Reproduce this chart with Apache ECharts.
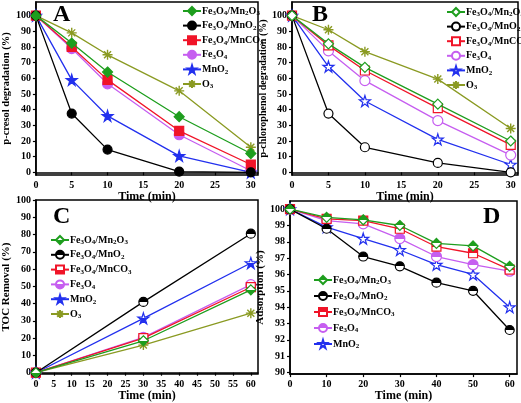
<!DOCTYPE html>
<html><head><meta charset="utf-8">
<script src="https://cdn.jsdelivr.net/npm/echarts@6/dist/echarts.min.js"></script>
<style>html,body{margin:0;padding:0;background:#fff}#c{width:521px;height:403px}</style>
</head><body><div id="c"></div>
<script>
// ---- data ----
var seriesNames = ['Fe3O4/Mn2O3','Fe3O4/MnO2','Fe3O4/MnCO3','Fe3O4','MnO2','O3'];
var timeAB = [0,5,10,20,30];
var timeC = [0,30,60];
var timeD = [0,10,20,30,40,50,60];
// Panel A: p-cresol degradation (%)
var aMn2O3 = [100,82.5,64,35.5,12];
var aMnO2c = [100,37.5,14.5,0.5,0];
var aMnCO3 = [100,80,59,26.5,5];
var aFe3O4 = [100,79,56.5,24,1];
var aMnO2 = [100,59,36,10.5,0];
var aO3 = [100,89,75,52,16];
// Panel B: p-chlorophenol degradation (%)
var bMn2O3 = [100,82,67,43.5,20];
var bMnO2c = [100,37.5,16,6,0];
var bMnCO3 = [100,81,65,41,17.5];
var bFe3O4 = [100,77.5,58.5,33,11];
var bMnO2 = [100,67.5,45.5,21,5];
var bO3 = [100,91,77,59.5,28];
// Panel C: TOC removal (%)
var cMn2O3 = [0,18.5,48];
var cMnO2c = [0,41,80.5];
var cMnCO3 = [0,20,49.5];
var cFe3O4 = [0,20.5,51];
var cMnO2 = [0,31.5,63.5];
var cO3 = [0,16,34.5];
// Panel D: Adsorption (%)
var dMn2O3 = [100,99.5,99.35,99.0,97.9,97.75,96.5];
var dMnO2c = [100,98.8,97.1,96.5,95.5,95.0,92.6];
var dMnCO3 = [100,99.4,99.3,98.8,97.7,97.3,96.3];
var dFe3O4 = [100,99.3,99.1,98.2,97.1,96.6,96.2];
var dMnO2 = [100,98.9,98.2,97.5,96.6,96.0,94.0];
var ticksY100 = [0,10,20,30,40,50,60,70,80,90,100];
var ticksD = [90,91,92,93,94,95,96,97,98,99,100];

// ---- styles ----
var colors = ['#1e9e1e','#000000','#f01428','#c65ef0','#2230ee','#8a9a22'];
var symbols = ['diamond','circle','rect','circle','path://M50,0 L61,35 L98,35 L68,57 L79,91 L50,70 L21,91 L32,57 L2,35 L39,35 Z','path://M50,0 L50,100 M0,50 L100,50 M15,15 L85,85 M85,15 L15,85'];
var sizes = [10,9,9,10,11,10];
var F = 'Liberation Serif';

function half(c, top){
  var s = top ? [{offset:0,color:c},{offset:0.5,color:c},{offset:0.5,color:'#fff'},{offset:1,color:'#fff'}]
              : [{offset:0,color:'#fff'},{offset:0.5,color:'#fff'},{offset:0.5,color:c},{offset:1,color:c}];
  return {type:'linear',x:0,y:0,x2:0,y2:1,colorStops:s};
}
function fillFor(panel, i){
  var c = colors[i];
  if (i === 5) return c;
  if (panel === 0) return c;
  if (panel === 1) return '#fff';
  if (panel === 2) return half(c, i === 1);
  return (i === 4) ? '#fff' : half(c, true);
}
function legendFmt(name){
  return name.replace(/([A-Za-z]+)|(\d+)|(\/)/g, function(m,a,d,s){
    if (d) return '{s|'+d+'}';
    return '{n|'+m+'}';
  });
}
var rich = {n:{fontFamily:F,fontWeight:'bold',fontSize:10,lineHeight:13,color:'#000'},
            s:{fontFamily:F,fontWeight:'bold',fontSize:7,lineHeight:13,color:'#000',padding:[5,0,0,0]}};

var grids = [
  {left:31,top:2,width:227,height:173},
  {left:292,top:2,width:226,height:173},
  {left:31,top:200,width:227,height:176},
  {left:290,top:201,width:227,height:175}
];
var xCfg = [{min:0,max:31,interval:5},{min:0,max:31,interval:5},{min:0,max:62,interval:5},{min:0,max:62,interval:10}];
var yCfg = [{min:-1.7,max:108.7,ticks:ticksY100,name:'p-cresol degradation (%)',fs:10.5,gap:19},
            {min:-1.7,max:108.7,ticks:ticksY100,name:'p-chlorophenol degradation (%)',fs:10,gap:17},
            {min:-0.8,max:100,ticks:ticksY100,name:'TOC Removal (%)',fs:11,gap:19},
            {min:89.9,max:100.5,ticks:ticksD,name:'Adsorption (%)',fs:11,gap:17}];
var panelData = [
  [aMn2O3,aMnO2c,aMnCO3,aFe3O4,aMnO2,aO3],
  [bMn2O3,bMnO2c,bMnCO3,bFe3O4,bMnO2,bO3],
  [cMn2O3,cMnO2c,cMnCO3,cFe3O4,cMnO2,cO3],
  [dMn2O3,dMnO2c,dMnCO3,dFe3O4,dMnO2]
];
var panelX = [timeAB,timeAB,timeC,timeD];
var legendPos = [{left:182,top:5,gap:2.6},{left:446,top:6,gap:2.6},{left:50,top:234,gap:2.8},{left:313,top:274,gap:4}];
var letters = [{t:'A',x:63,y:16},{t:'B',x:322,y:16},{t:'C',x:63,y:218},{t:'D',x:493,y:218}];

var axisText = {fontFamily:F,fontWeight:'bold',fontSize:10,color:'#000'};
var option = {animation:false,backgroundColor:'#fff',grid:[],xAxis:[],yAxis:[],series:[],legend:[],graphic:[]};
grids.forEach(function(g,p){
  option.grid.push(Object.assign({show:true,borderColor:'#000',borderWidth:1.5,backgroundColor:'transparent'},g));
  var xc = xCfg[p];
  var xTicks=[]; for (var v=xc.min; v<=60; v+=xc.interval) if (v<=xc.max) xTicks.push(v);
  option.xAxis.push({type:'value',gridIndex:p,min:xc.min,max:xc.max,
    name:'Time (min)',nameLocation:'middle',nameGap:12,
    nameTextStyle:{fontFamily:F,fontWeight:'bold',fontSize:12,color:'#000'},
    axisLine:{lineStyle:{color:'#000',width:1.5}},
    axisTick:{inside:false,length:3,customValues:xTicks,lineStyle:{color:'#000',width:1.2}},
    axisLabel:Object.assign({margin:5,customValues:xTicks},axisText),
    splitLine:{show:false}});
  var yc = yCfg[p];
  option.yAxis.push({type:'value',gridIndex:p,min:yc.min,max:yc.max,
    name:yc.name,nameLocation:'middle',nameGap:yc.gap,
    nameTextStyle:{fontFamily:F,fontWeight:'bold',fontSize:yc.fs,color:'#000'},
    axisLine:{lineStyle:{color:'#000',width:1.5}},
    axisTick:{length:3,customValues:yc.ticks,lineStyle:{color:'#000',width:1.2}},
    axisLabel:Object.assign({margin:5,customValues:yc.ticks},axisText),
    splitLine:{show:false}});
  var names=[];
  panelData[p].forEach(function(arr,i){
    names.push(seriesNames[i]+'#'+p);
    option.series.push({type:'line',name:seriesNames[i]+'#'+p,xAxisIndex:p,yAxisIndex:p,
      data:panelX[p].map(function(x,k){return [x,arr[k]];}),
      symbol:symbols[i],symbolSize:sizes[i],showSymbol:true,clip:true,
      lineStyle:{color:colors[i],width:1.3},
      itemStyle:{color:fillFor(p,i),borderColor:colors[i],borderWidth:i===5?1.4:1.2},
      z:10-i});
  });
  option.legend.push({data:names,orient:'vertical',left:legendPos[p].left,top:legendPos[p].top,
    itemWidth:18,itemHeight:10,itemGap:legendPos[p].gap,padding:0,
    formatter:function(n){return legendFmt(n.split('#')[0]);},
    textStyle:{rich:rich,padding:[0,0,0,-4]}});
  option.graphic.push({type:'text',left:letters[p].x-10,top:letters[p].y-13,
    style:{text:letters[p].t,font:'bold 24px "Liberation Serif"',fill:'#000'}});
});
var chart = echarts.init(document.getElementById('c'),null,{renderer:'canvas'});
chart.setOption(option);
</script></body></html>
